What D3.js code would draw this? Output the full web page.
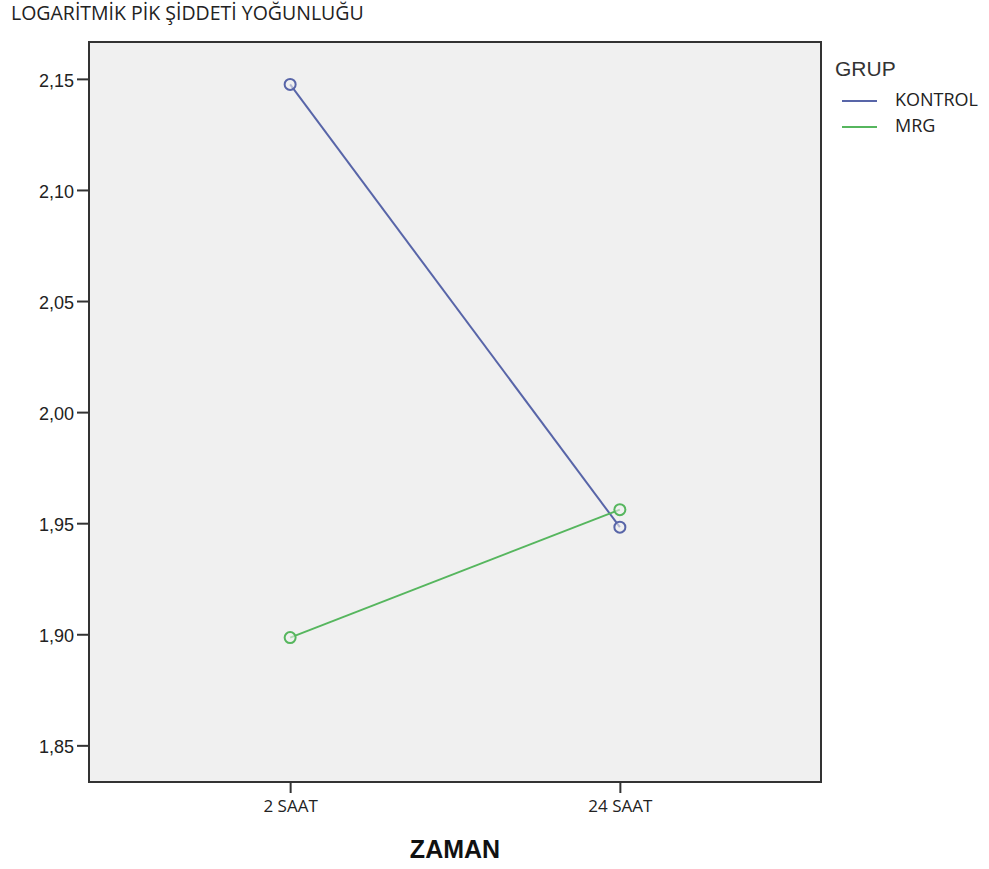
<!DOCTYPE html>
<html>
<head>
<meta charset="utf-8">
<script src="https://cdn.jsdelivr.net/npm/d3@7"></script>
<style>
  body { margin: 0; background: #fff; }
  .axis text { font-family: "Liberation Sans", Arial, sans-serif; fill: #222; }
  .axis path, .axis line { stroke: #333; }
</style>
</head>
<body>
<div id="chart"></div>
<script>
// chart values
const times = ["2 SAAT", "24 SAAT"];
const groups = ["KONTROL", "MRG"];
const kontrolValues = [2.1475, 1.9482];
const mrgValues = [1.8985, 1.9561];
const yTicks = [1.85, 1.90, 1.95, 2.00, 2.05, 2.10, 2.15];
const groupColors = ["#5865a8", "#56b65e"];

const seriesValues = [kontrolValues, mrgValues];

const width = 989, height = 869;
const margin = {top: 42, right: 168, bottom: 87, left: 89};

const svg = d3.select("#chart").append("svg")
    .attr("width", width)
    .attr("height", height);

// scales
const x = d3.scalePoint()
    .domain(times)
    .range([margin.left, width - margin.right])
    .padding(0.61);

const y = d3.scaleLinear()
    .domain([1.8335, 2.1666])
    .range([height - margin.bottom, margin.top]);

// plot background
svg.append("rect")
    .attr("x", margin.left)
    .attr("y", margin.top)
    .attr("width", width - margin.left - margin.right)
    .attr("height", height - margin.top - margin.bottom)
    .attr("fill", "#f0f0f0")
    .attr("stroke", "#333")
    .attr("stroke-width", 2);

// axes
const yAxis = d3.axisLeft(y)
    .tickValues(yTicks)
    .tickSize(12)
    .tickPadding(3)
    .tickFormat(d => d3.format(".2f")(d).replace(".", ","));

svg.append("g")
    .attr("class", "y-axis axis")
    .attr("transform", "translate(" + margin.left + ",0)")
    .call(yAxis)
    .call(g => g.select(".domain").remove())
    .call(g => g.selectAll("line").attr("stroke-width", 2))
    .call(g => g.selectAll("text").style("font-size", "18px").attr("dy", "0.42em"));

const xAxis = d3.axisBottom(x)
    .tickSize(11)
    .tickPadding(7);

svg.append("g")
    .attr("class", "x-axis axis")
    .attr("transform", "translate(0," + (height - margin.bottom) + ")")
    .call(xAxis)
    .call(g => g.select(".domain").remove())
    .call(g => g.selectAll("line").attr("stroke-width", 2))
    .call(g => g.selectAll("text")
        .style("font-family", "'Open Sans', sans-serif")
        .style("font-size", "17px"));

// lines and markers
const line = d3.line()
    .x((d, i) => x(times[i]))
    .y(d => y(d));

groups.forEach((grp, gi) => {
    svg.append("path")
        .datum(seriesValues[gi])
        .attr("fill", "none")
        .attr("stroke", groupColors[gi])
        .attr("stroke-width", 2)
        .attr("d", line);

    svg.selectAll(".pt-" + gi)
        .data(seriesValues[gi])
        .enter().append("circle")
        .attr("class", "pt-" + gi)
        .attr("cx", (d, i) => x(times[i]))
        .attr("cy", d => y(d))
        .attr("r", 5.5)
        .attr("fill", "#f0f0f0")
        .attr("fill-opacity", 0.6)
        .attr("stroke", groupColors[gi])
        .attr("stroke-width", 2);
});

// title
svg.append("text")
    .attr("x", 11)
    .attr("y", 20)
    .style("font-family", "'Open Sans', sans-serif")
    .style("font-size", "19.5px")
    .attr("fill", "#222")
    .text("LOGARİTMİK PİK ŞİDDETİ YOĞUNLUĞU");

// x label
svg.append("text")
    .attr("x", (margin.left + width - margin.right) / 2)
    .attr("y", 858)
    .attr("text-anchor", "middle")
    .style("font-family", "'Liberation Sans', Arial, sans-serif")
    .style("font-size", "25px")
    .style("font-weight", "bold")
    .attr("fill", "#111")
    .text("ZAMAN");

// legend
const legend = svg.append("g").attr("transform", "translate(835,0)");
legend.append("text")
    .attr("x", 0)
    .attr("y", 76)
    .style("font-family", "'Liberation Sans', Arial, sans-serif")
    .style("font-size", "21px")
    .attr("fill", "#333")
    .text("GRUP");

groups.forEach((grp, gi) => {
    const ly = 101 + gi * 26;
    legend.append("line")
        .attr("x1", 7).attr("x2", 42)
        .attr("y1", ly).attr("y2", ly)
        .attr("stroke", groupColors[gi])
        .attr("stroke-width", 2);
    legend.append("text")
        .attr("x", 60)
        .attr("y", ly + 5)
        .style("font-family", "'Open Sans', sans-serif")
        .style("font-size", "18px")
        .attr("fill", "#222")
        .text(grp);
});
</script>
</body>
</html>
